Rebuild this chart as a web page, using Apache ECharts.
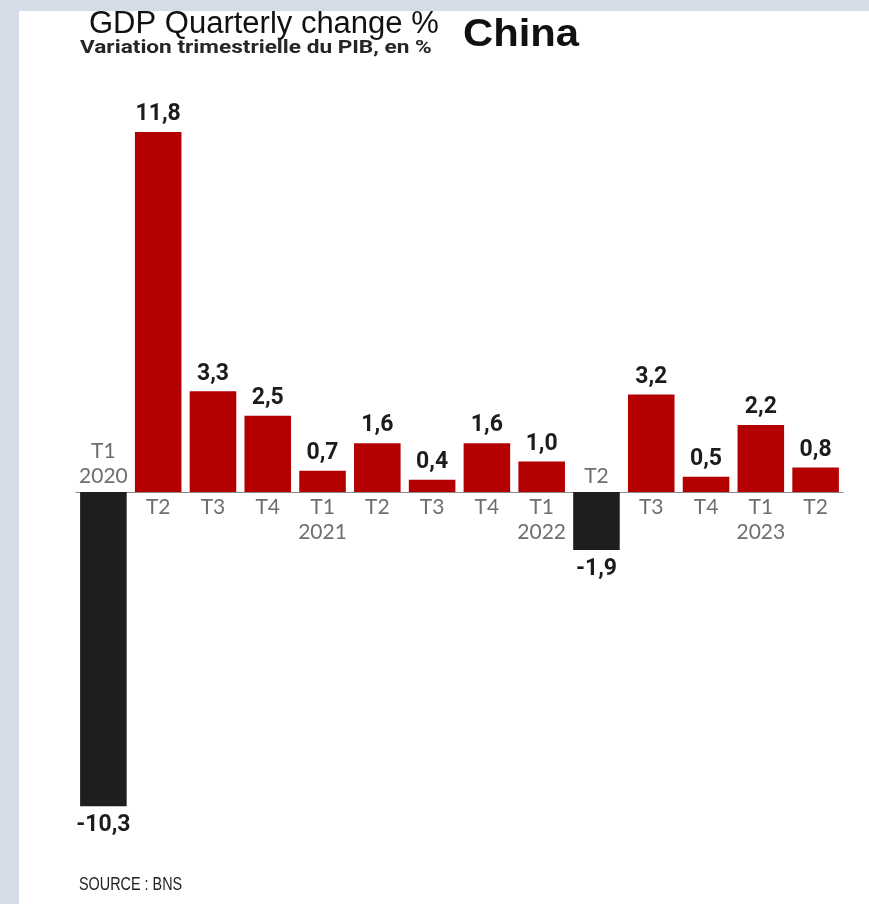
<!DOCTYPE html>
<html>
<head>
<meta charset="utf-8">
<script src="https://cdn.jsdelivr.net/npm/echarts@6/dist/echarts.min.js"></script>
<style>
  html, body { margin: 0; padding: 0; background: #ffffff; }
  #chart { width: 869px; height: 904px; }
</style>
</head>
<body>
<div id="chart"></div>
<script>
// Quarterly GDP change for China, 2020 T1 to 2023 T2
const quarters = ['T1', 'T2', 'T3', 'T4', 'T1', 'T2', 'T3', 'T4', 'T1', 'T2', 'T3', 'T4', 'T1', 'T2'];
const years = ['2020', '', '', '', '2021', '', '', '', '2022', '', '', '', '2023', ''];
const gdpChange = [-10.3, 11.8, 3.3, 2.5, 0.7, 1.6, 0.4, 1.6, 1.0, -1.9, 3.2, 0.5, 2.2, 0.8];

const titleEn = 'GDP Quarterly change %';
const titleFr = 'Variation trimestrielle du PIB, en %';
const country = 'China';
const source = 'SOURCE : BNS';

const RED = '#b40000';
const DARK = '#1e1e1e';
const FRAME = '#d5dce8';

const fmt = v => v.toFixed(1).replace('.', ',');

const barData = gdpChange.map(v => ({
  value: v,
  itemStyle: { color: v < 0 ? DARK : RED },
  label: { position: v < 0 ? 'bottom' : 'top', distance: v < 0 ? 8 : 6 }
}));

// Category names sit on the opposite side of the zero line from their bar
const catData = gdpChange.map((v, i) => ({
  value: [i, 0],
  label: { position: v < 0 ? 'top' : 'bottom' }
}));

const chart = echarts.init(document.getElementById('chart'), null, { renderer: 'canvas' });

chart.setOption({
  backgroundColor: '#ffffff',
  animation: false,
  grid: { left: 76, right: 26, top: 65, bottom: 46, containLabel: false },
  xAxis: {
    type: 'category',
    data: quarters.map((q, i) => q + (years[i] ? ' ' + years[i] : '')),
    axisLine: { show: true, onZero: true, lineStyle: { color: '#8a8a8a', width: 1 } },
    axisTick: { show: false },
    axisLabel: { show: false },
    splitLine: { show: false }
  },
  yAxis: {
    type: 'value',
    min: -12,
    max: 14,
    interval: 2,
    show: false,
    splitLine: { show: false }
  },
  series: [
    {
      type: 'bar',
      data: barData,
      barCategoryGap: '15%',
      z: 3,
      label: {
        show: true,
        formatter: p => fmt(p.value),
        fontFamily: 'Roboto',
        fontWeight: 'bold',
        fontSize: 23,
        color: '#1c1c1c'
      }
    },
    {
      type: 'scatter',
      data: catData,
      symbolSize: 0,
      silent: true,
      z: 4,
      label: {
        show: true,
        distance: 3,
        formatter: p => {
          const i = p.value[0];
          return years[i] ? quarters[i] + '\n' + years[i] : quarters[i];
        },
        fontFamily: 'Lato',
        fontWeight: 'normal',
        fontSize: 21,
        lineHeight: 25,
        color: '#4a4a4a'
      }
    }
  ],
  graphic: [
    { type: 'rect', shape: { x: 0, y: 0, width: 869, height: 11 }, style: { fill: FRAME }, z: 100 },
    { type: 'rect', shape: { x: 0, y: 0, width: 19, height: 904 }, style: { fill: FRAME }, z: 100 },
    {
      type: 'text', x: 89, y: 24, z: 50,
      style: { text: titleEn, fontFamily: 'Liberation Sans', fontSize: 31, fill: '#111111', align: 'left', verticalAlign: 'middle' }
    },
    {
      type: 'text', x: 80, y: 48, scaleX: 1.19, z: 50,
      style: { text: titleFr, fontFamily: 'Roboto', fontWeight: 'bold', fontSize: 19, fill: '#262626', align: 'left', verticalAlign: 'middle' }
    },
    {
      type: 'text', x: 463, y: 36, scaleX: 1.1, z: 50,
      style: { text: country, fontFamily: 'Liberation Sans', fontWeight: 'bold', fontSize: 38, fill: '#111111', align: 'left', verticalAlign: 'middle' }
    },
    {
      type: 'text', x: 79, y: 885, scaleX: 0.8, z: 50,
      style: { text: source, fontFamily: 'Liberation Sans', fontSize: 18, fill: '#222222', align: 'left', verticalAlign: 'middle' }
    }
  ]
});
</script>
</body>
</html>
